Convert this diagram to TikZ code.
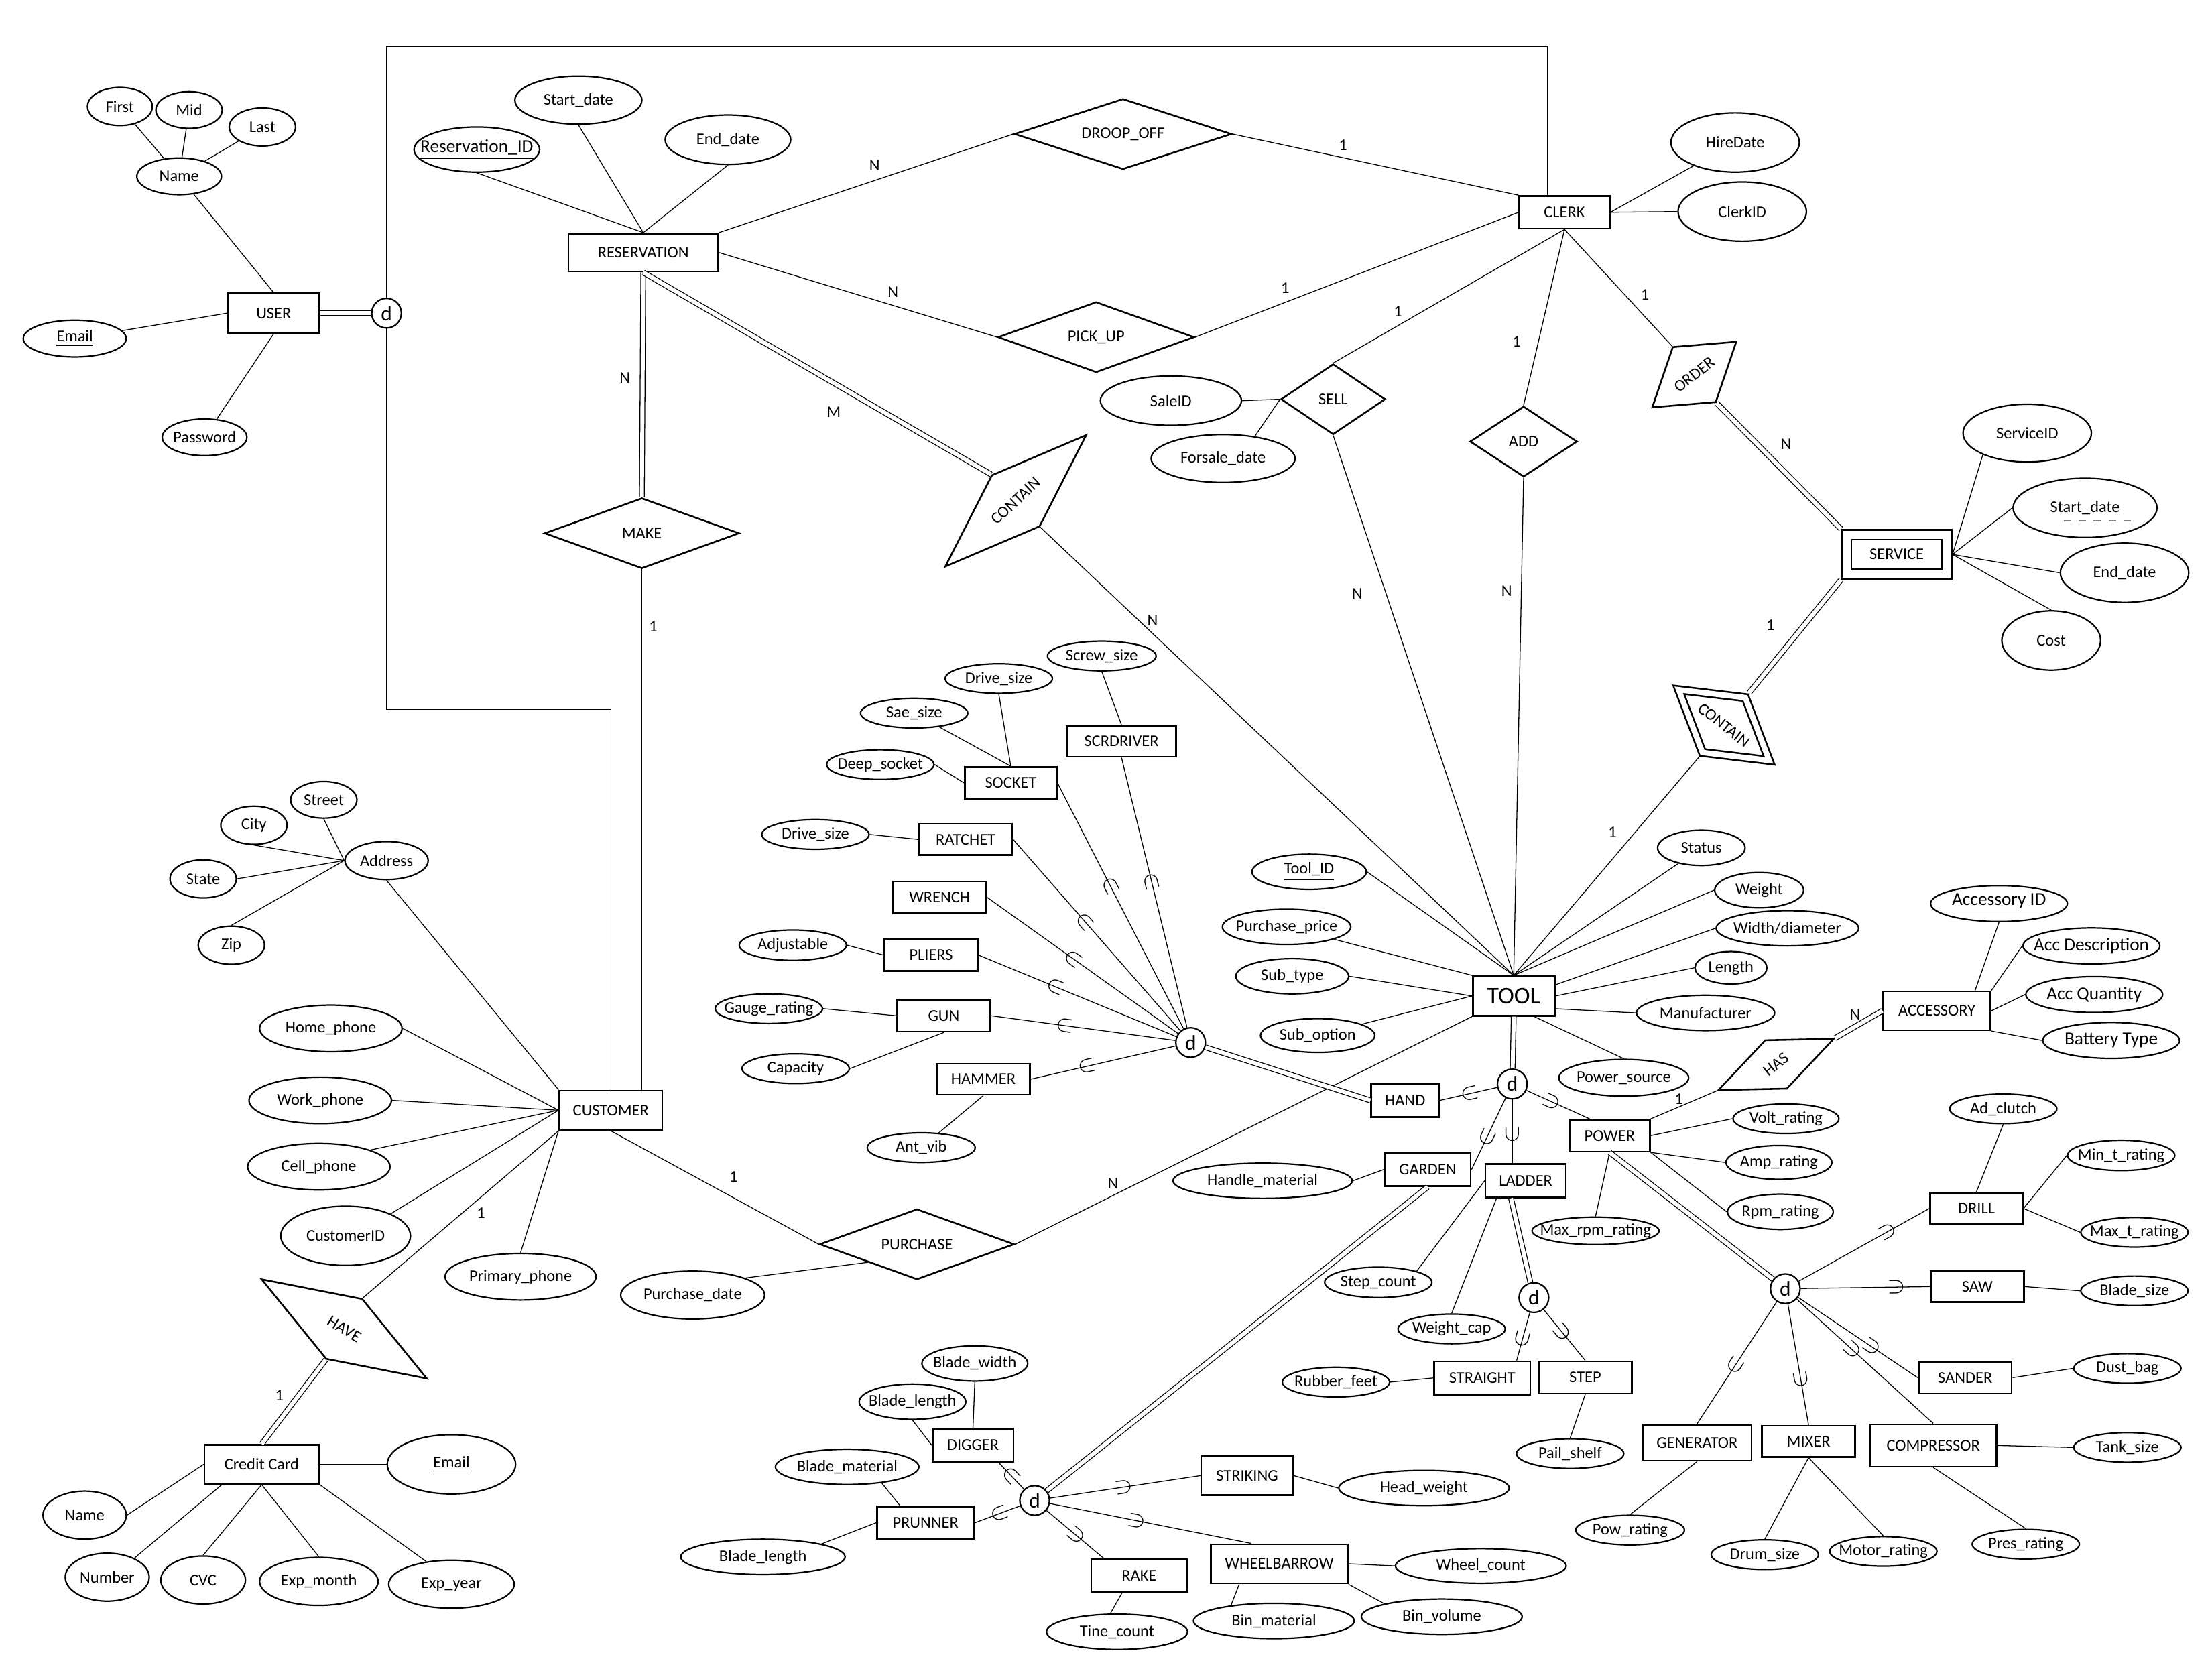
\documentclass[tikz,border=0pt]{standalone}
\usepackage{fontspec}
\setmainfont{Carlito}
\usepackage{graphicx}
\usetikzlibrary{shapes.geometric}

\begin{document}
\begin{tikzpicture}[
  x=0.02cm, y=-0.02cm,
  font=\fontsize{6.6}{7.5}\selectfont,
  pointtext/.style={
    execute at begin node={\hbox to 0pt\bgroup\hss},
    execute at end node={\hss\egroup}
  },
  entity/.style 2 args={
    draw, line width=0.7pt, rectangle, inner sep=0pt,
    minimum width=#1*0.02cm, minimum height=#2*0.02cm
  },
  weakentity/.style 2 args={
    entity={#1}{#2}, double, double distance=3.2pt, outer sep=2.3pt
  },
  attr/.style 2 args={
    draw, line width=0.6pt, ellipse, inner sep=0pt, pointtext,
    minimum width=#1*0.02cm, minimum height=#2*0.02cm
  },
  rel/.style 2 args={
    draw, line width=0.7pt, diamond, inner sep=0pt, pointtext,
    minimum width=#1*0.02cm, minimum height=#2*0.02cm
  },
  weakrel/.style 2 args={
    rel={#1}{#2}, double, double distance=2.2pt, outer sep=1.8pt
  },
  isa/.style={
    draw, line width=0.6pt, circle, inner sep=0pt,
    minimum size=21*0.02cm, font=\fontsize{8.5}{9}\selectfont
  },
  link/.style={line width=0.35pt},
  total/.style={line width=0.35pt, double, double distance=1.6pt},
  card/.style={inner sep=0pt},
  subset/.style={sloped, allow upside down, inner sep=0pt, font=\fontsize{9.5}{9.5}\selectfont},
  bigattr/.style={font=\fontsize{7.4}{8}\selectfont}
]
\useasboundingbox[fill=white] (0,0) rectangle (1568,1176);

% User and its specialisation frame
\node[entity={65}{28}] (user) at (194,222) {USER};
\node[isa] (userisa) at (274,222) {d};
\node[attr={60}{26}] (uname) at (127,125) {Name};
\node[attr={46}{27}] (ufirst) at (85,75.5) {First};
\node[attr={47}{26}] (umid) at (134,78) {Mid};
\node[attr={47}{27}] (ulast) at (186,90) {Last};
\node[attr={73}{26}] (uemail) at (53,240) {\underline{Email}};
\node[attr={60}{26}] (upass) at (145,310) {Password};

\draw[link] (uname) -- (user.north);
\draw[link] (uname) -- (ufirst);
\draw[link] (uname) -- (umid);
\draw[link] (uname) -- (ulast);
\draw[link] (uemail) -- (user.west);
\draw[link] (user.south) -- (upass);
\draw[total] (user) -- (userisa);

\coordinate (frameTL) at (274,33);
\coordinate (frameTR) at (1097,33);
\coordinate (frameBL) at (274,503);
\coordinate (frameBR) at (433,503);

% Reservation side
\node[entity={106}{27}] (resv) at (456,179) {RESERVATION};
\node[attr={89}{32}, bigattr] (resid) at (338,106) {\underline{Reservation\_ID}};
\node[attr={90}{34}] (rstart) at (410,71) {Start\_date};
\node[attr={89}{35}] (rend) at (516,99) {End\_date};
\node[rel={154}{50}] (dropoff) at (796,95) {DROOP\_OFF};
\node[rel={139}{50}] (pickup) at (777,239) {PICK\_UP};
\node[rel={138}{50}] (make) at (455,378) {MAKE};
\node[rel={137}{50}, rotate=43] (contres) at (720,355) {CONTAIN};

\draw[link] (resid.south) -- (resv.north);
\draw[link] (rstart.south) -- (resv.north);
\draw[link] (rend.south) -- (resv.north);

% Clerk side
\node[entity={64}{23}] (clerk) at (1109,150.5) {CLERK};
\node[attr={91}{42}] (hiredate) at (1230,101) {HireDate};
\node[attr={91}{42}] (clerkid) at (1235,150) {ClerkID};
\node[rel={74}{50}] (sell) at (945,283) {SELL};
\node[attr={100}{35}] (saleid) at (830,284) {SaleID};
\node[attr={102}{34}] (forsale) at (867,325) {Forsale\_date};
\node[rel={76}{50}] (add) at (1080,313) {ADD};
\node[rel={76}{50}, rotate=38] (order) at (1201,265.5) {ORDER};

\draw[link] (clerk.east) -- (hiredate);
\draw[link] (clerk.east) -- (clerkid.west);
\draw[link] (saleid.east) -- (sell.west);
\draw[link] (forsale.35) -- (sell.west);

\draw[link] (userisa) -- (frameTL) -- (frameTR) -- (frameTR |- clerk.north);

\draw[link] (resv.north east) -- (dropoff.west);
\draw[link] (dropoff.east) -- (clerk.north west);
\draw[link] (resv.east) -- (pickup.west);
\draw[link] (pickup.east) -- (clerk.west);
\draw[link] (clerk.south) -- (sell.north);
\draw[link] (clerk.south) -- (add.north);
\draw[link] (clerk.south) -- (order.north);

% Service
\node[weakentity={71}{28}] (service) at (1344.5,393) {SERVICE};
\node[attr={91}{41}] (svcid) at (1437,307) {ServiceID};
\node[attr={102}{42}] (svcstart) at (1478,360) {Start\_date};
\node[attr={91}{42}] (svcend) at (1506,406) {End\_date};
\node[attr={70}{42}] (svccost) at (1454,454) {Cost};
\node[weakrel={84}{52}, rotate=-38] (contsvc) at (1222,514) {CONTAIN};

\draw[link] (service.east) -- (svcid.206);
\draw[link] (service.east) -- (svcstart.west);
\draw[link] (service.east) -- (svcend.west);
\draw[link] (service.east) -- (svccost.north);
\draw[dashed, gray, line width=0.5pt] ([shift={(-15,9)}]svcstart.center) -- ++(51,0);
\draw[total] (order.south) -- (service.north west);
\draw[total] (service.south west) -- (contsvc.north);

% Customer
\node[entity={73}{28}] (customer) at (433,787) {CUSTOMER};
\node[attr={59}{27}] (addr) at (274,610) {Address};
\node[attr={47}{26}] (street) at (229.5,567) {Street};
\node[attr={47}{27}] (city) at (180,585) {City};
\node[attr={47}{27}] (state) at (144,623) {State};
\node[attr={47}{27}] (zip) at (164,670) {Zip};
\node[attr={101}{33}] (homeph) at (234.5,729) {Home\_phone};
\node[attr={101}{33}] (workph) at (227,780) {Work\_phone};
\node[attr={101}{33}] (cellph) at (226,827) {Cell\_phone};
\node[attr={92}{42}] (custid) at (245,876) {CustomerID};
\node[attr={107}{33}] (primph) at (369,905) {Primary\_phone};
\node[rel={137}{50}, rotate=-31] (have) at (244,942) {HAVE};

\draw[link] (addr.west) -- (street.south);
\draw[link] (addr.west) -- (city.south);
\draw[link] (addr.west) -- (state.east);
\draw[link] (addr.west) -- (zip.north);
\draw[link] (addr.south) -- (customer.north west);
\draw[link] (homeph.east) -- (customer.west);
\draw[link] (workph.east) -- (customer.west);
\draw[link] (cellph.18) -- (customer.west);
\draw[link] (custid.26) -- (customer.west);
\draw[link] (primph.north) -- (customer.south west);
\draw[link] (have.north) -- (customer.south west);

\draw[link] (userisa) -- (frameBL) -- (frameBR) -- (frameBR |- customer.north);
\draw[total] (resv.south) -- (make.north);
\draw[link] (make.south) -- (make.south |- customer.north);
\draw[total] (resv.south) -- (contres.north);

% Credit card
\node[entity={81}{27.5}] (ccard) at (185.5,1038) {Credit Card};
\node[attr={91}{42}] (ccemail) at (320,1038) {\underline{Email}};
\node[attr={59}{34}] (ccname) at (60,1074) {Name};
\node[attr={59.5}{34}] (ccnum) at (76,1118) {Number};
\node[attr={60}{34}] (cccvc) at (144,1120) {CVC};
\node[attr={84}{34}] (ccmonth) at (226,1121) {Exp\_month};
\node[attr={89}{34}] (ccyear) at (320,1123) {Exp\_year};

\draw[total] (have.south) -- (ccard.north);
\draw[link] (ccard.east) -- (ccemail.west);
\draw[link] (ccard.west) -- (ccname.east);
\draw[link] (ccard.207) -- (ccnum.35);
\draw[link] (ccard.south) -- (cccvc.north);
\draw[link] (ccard.south) -- (ccmonth.north);
\draw[link] (ccard.south east) -- (ccyear.138);

% Tool
\node[entity={58}{28}, font=\fontsize{9.7}{11}\selectfont] (tool) at (1073,706) {TOOL};
\node[attr={81}{25}] (toolid) at (928,618) {\underline{Tool\_ID}};
\node[attr={91}{25}] (purprice) at (912,657) {Purchase\_price};
\node[attr={80}{25}] (subtype) at (916,692) {Sub\_type};
\node[attr={81}{24}] (subopt) at (934,734) {Sub\_option};
\node[attr={62}{25}] (status) at (1206,601) {Status};
\node[attr={63}{25}] (weight) at (1247,631) {Weight};
\node[attr={101}{25}] (widthdia) at (1267,658) {Width/diameter};
\node[attr={51}{23}] (length) at (1227,686) {Length};
\node[attr={98}{25}] (manuf) at (1209,718) {Manufacturer};
\node[attr={92}{26}] (powsrc) at (1151,764) {Power\_source};

\draw[link] (sell.south) -- (tool.north);
\draw[link] (add.south) -- (tool.north);
\draw[link] (contres.south) -- (tool.north);
\draw[link] (contsvc.south) -- (tool.north);
\draw[link] (toolid.east) -- (tool.north);
\draw[link] (purprice) -- (tool.north west);
\draw[link] (subtype.east) -- (tool.west);
\draw[link] (subopt) -- (tool.west);
\draw[link] (status) -- (tool.north);
\draw[link] (weight.west) -- (tool.north);
\draw[link] (widthdia.west) -- (tool.15);
\draw[link] (length.west) -- (tool.east);
\draw[link] (manuf.west) -- (tool.-17);
\draw[link] (tool.-45) -- (powsrc.north);

% Purchase
\node[rel={138}{50}] (purchase) at (650,882) {PURCHASE};
\node[attr={102}{34}] (purdate) at (491,918) {Purchase\_date};
\draw[link] (customer.south) -- (purchase.west);
\draw[link] (purchase.east) -- (tool.south west);
\draw[link] (purdate.18) -- (purchase.south west);

% Tool specialisation
\node[isa] (tooldisa) at (1072,768.4) {d};
\node[entity={48}{23.5}] (hand) at (996,780) {HAND};
\node[entity={61}{23.5}] (garden) at (1012,829) {GARDEN};
\node[entity={57}{23.6}] (ladder) at (1081.5,837) {LADDER};
\node[entity={57}{22.5}] (power) at (1141,805) {POWER};
\node[attr={127}{25}] (handlemat) at (895,837) {Handle\_material};

\draw[total] (tool.south) -- (tooldisa);
\draw[link] (hand.east) -- node[subset, pos=0.52] (sub1) {$\subset$} (tooldisa);
\draw[link] (garden.east) -- node[subset, pos=0.45] (sub2) {$\subset$} (tooldisa);
\draw[link] (ladder.north -| tooldisa) -- node[subset, pos=0.46] (sub3) {$\subset$} (tooldisa);
\draw[link] (power.140) -- node[subset, pos=0.6] (sub4) {$\subset$} (tooldisa);
\draw[link] (handlemat.east) -- (garden.west);

% Hand tools
\node[isa] (handisa) at (844,739) {d};
\node[entity={65}{22.5}] (socket) at (716.5,555) {SOCKET};
\node[entity={77.5}{22}] (scrdriver) at (795,525.5) {SCRDRIVER};
\node[entity={66}{22}] (ratchet) at (684.5,595) {RATCHET};
\node[entity={66}{22.5}] (wrench) at (666,636) {WRENCH};
\node[entity={66}{22.5}] (pliers) at (660,677) {PLIERS};
\node[entity={66}{22.5}] (gun) at (669,720) {GUN};
\node[entity={66}{22}] (hammer) at (697,765) {HAMMER};
\node[attr={76}{21}] (sockdrive) at (708,481) {Drive\_size};
\node[attr={76}{21}] (saesize) at (648,505.5) {Sae\_size};
\node[attr={76}{21}] (deepsock) at (624,542) {Deep\_socket};
\node[attr={77}{21}] (screwsize) at (781,465) {Screw\_size};
\node[attr={76}{21}] (ratdrive) at (578,591.5) {Drive\_size};
\node[attr={76}{21.5}] (adjust) at (562,670) {Adjustable};
\node[attr={76}{21}] (gauge) at (545,715) {Gauge\_rating};
\node[attr={76}{21}] (capacity) at (564,757.5) {Capacity};
\node[attr={76.5}{21}] (antvib) at (653,813.5) {Ant\_vib};

\draw[total] (handisa) -- (hand.west);
\draw[link] (sockdrive.south) -- (socket.north);
\draw[link] (saesize) -- (socket.north);
\draw[link] (deepsock.east) -- (socket.west);
\draw[link] (screwsize.south) -- (scrdriver.north);
\draw[link] (ratdrive.east) -- (ratchet.west);
\draw[link] (adjust.east) -- (pliers.west);
\draw[link] (gauge.east) -- (gun.west);
\draw[link] (capacity.east) -- (gun.south);
\draw[link] (hammer.south) -- (antvib);
\draw[link] (scrdriver.south) -- node[subset, pos=0.46] (sub5) {$\subset$} (handisa);
\draw[link] (socket.east) -- node[subset, pos=0.42] (sub6) {$\subset$} (handisa);
\draw[link] (ratchet.east) -- node[subset, pos=0.43] (sub7) {$\subset$} (handisa);
\draw[link] (wrench.east) -- node[subset, pos=0.45] (sub8) {$\subset$} (handisa);
\draw[link] (pliers.east) -- node[subset, pos=0.39] (sub9) {$\subset$} (handisa);
\draw[link] (gun.east) -- node[subset, pos=0.40] (sub10) {$\subset$} (handisa);
\draw[link] (hammer.east) -- node[subset, pos=0.39] (sub11) {$\subset$} (handisa);

% Power tools and accessories
\node[attr={75}{21}] (volt) at (1266,793) {Volt\_rating};
\node[attr={75}{24}] (amp) at (1261,824) {Amp\_rating};
\node[attr={75}{25}] (rpm) at (1262,859) {Rpm\_rating};
\node[attr={90}{19.5}] (maxrpm) at (1131,872.5) {Max\_rpm\_rating};
\node[rel={90}{38}, rotate=24] (has) at (1259,754.5) {\rotatebox{14}{HAS}};
\node[entity={76}{27.5}] (accessory) at (1373,716.5) {ACCESSORY};
\node[attr={97}{25.5}, bigattr] (accid) at (1417,640.5) {\underline{Accessory ID}};
\node[attr={97}{25.5}, bigattr] (accdesc) at (1482.5,670.5) {Acc Description};
\node[attr={97}{25.5}, bigattr] (accqty) at (1484.5,705) {Acc Quantity};
\node[attr={97}{25.5}, bigattr] (battype) at (1496.5,737.5) {Battery Type};

\draw[link] (power.east) -- (volt.west);
\draw[link] (power.south east) -- (amp.west);
\draw[link] (power.south east) -- (rpm.west);
\draw[link] (maxrpm.north) -- (power.south);
\draw[link] (power.north east) -- (has.west);
\draw[total] (has.east) -- (accessory.west);
\draw[link] (accid.south) -- (accessory.28);
\draw[link] (accdesc.west) -- (accessory.north east);
\draw[link] (accqty.west) -- (accessory.east);
\draw[link] (battype.west) -- (accessory.south east);

\node[isa] (powerisa) at (1265.5,913.5) {d};
\node[entity={65.5}{22.3}] (drill) at (1401,856.6) {DRILL};
\node[entity={66}{22}] (saw) at (1401.6,912) {SAW};
\node[entity={66}{22.5}] (sander) at (1393,976.6) {SANDER};
\node[entity={77}{25.5}] (generator) at (1203,1022.6) {GENERATOR};
\node[entity={66}{22}] (mixer) at (1282,1021.7) {MIXER};
\node[entity={89.5}{30}] (compressor) at (1370.4,1024.6) {COMPRESSOR};
\node[attr={76}{21}] (adclutch) at (1420,786) {Ad\_clutch};
\node[attr={76}{21.5}] (mintr) at (1503.6,819) {Min\_t\_rating};
\node[attr={76}{21}] (maxtr) at (1513,873.5) {Max\_t\_rating};
\node[attr={76}{21}] (bladesize) at (1513,915) {Blade\_size};
\node[attr={76}{21}] (dustbag) at (1508,970) {Dust\_bag};
\node[attr={76}{21}] (tanksize) at (1508,1026) {Tank\_size};
\node[attr={76}{21}] (presrating) at (1436,1094.6) {Pres\_rating};
\node[attr={76}{21}] (drumsize) at (1251,1102) {Drum\_size};
\node[attr={76}{21}] (motorrating) at (1335,1099.7) {Motor\_rating};
\node[attr={77}{21}] (powrating) at (1155.5,1084.6) {Pow\_rating};

\draw[total] (power.south) -- (powerisa);
\draw[link] (drill.west) -- node[subset, pos=0.32] (sub12) {$\subset$} (powerisa);
\draw[link] (saw.west) -- node[subset, pos=0.26] (sub13) {$\subset$} (powerisa);
\draw[link] (sander.west) -- node[subset, pos=0.385] (sub14) {$\subset$} (powerisa);
\draw[link] (compressor.north) -- node[subset, pos=0.59] (sub15) {$\subset$} (powerisa);
\draw[link] (mixer.north) -- node[subset, pos=0.38] (sub16) {$\subset$} (powerisa);
\draw[link] (generator.north) -- node[subset, pos=0.48] (sub17) {$\subset$} (powerisa);
\draw[link] (drill.north) -- (adclutch.south);
\draw[link] (drill.east) -- (mintr.west);
\draw[link] (drill.east) -- (maxtr.west);
\draw[link] (saw.east) -- (bladesize.west);
\draw[link] (sander.east) -- (dustbag.west);
\draw[link] (compressor.east) -- (tanksize.west);
\draw[link] (compressor.south) -- (presrating.north);
\draw[link] (mixer.south) -- (drumsize.north);
\draw[link] (mixer.south) -- (motorrating.north);
\draw[link] (generator.south) -- (powrating.north);

% Ladders
\node[isa] (ladderisa) at (1087.3,919.8) {d};
\node[attr={76}{21.5}] (stepcount) at (977,909) {Step\_count};
\node[attr={76}{21}] (weightcap) at (1029,942) {Weight\_cap};
\node[entity={68}{23.6}] (straight) at (1050.7,976.8) {STRAIGHT};
\node[entity={66}{22.8}] (step) at (1123.7,976.4) {STEP};
\node[attr={76}{21}] (rubberfeet) at (947,979.7) {Rubber\_feet};
\node[attr={76}{21}] (pailshelf) at (1113,1030.4) {Pail\_shelf};

\draw[total] (ladder.-130) -- (ladderisa);
\draw[link] (ladder.west) -- (stepcount.north east);
\draw[link] (ladder.-149) -- (weightcap.north);
\draw[link] (straight.27) -- node[subset, pos=0.45] (sub18) {$\subset$} (ladderisa);
\draw[link] (step.north) -- node[subset, pos=0.55] (sub19) {$\subset$} (ladderisa);
\draw[link] (rubberfeet.east) -- (straight.west);
\draw[link] (step.south) -- (pailshelf.north);

% Garden tools
\node[isa] (gardenisa) at (733.4,1063.6) {d};
\node[entity={57.3}{23.2}] (digger) at (689.7,1024.4) {DIGGER};
\node[entity={68.8}{23.2}] (prunner) at (656,1079.4) {PRUNNER};
\node[entity={68}{23}] (rake) at (807.5,1117) {RAKE};
\node[entity={65}{27.8}] (striking) at (884,1046) {STRIKING};
\node[entity={97}{27.7}] (wheelbarrow) at (906.8,1108.5) {WHEELBARROW};
\node[attr={75}{25}] (bladewidth) at (691,966.5) {Blade\_width};
\node[attr={75.6}{25}] (digbladelen) at (646.8,993.6) {Blade\_length};
\node[attr={101.7}{25}] (blademat) at (600.5,1039.8) {Blade\_material};
\node[attr={116.5}{25}] (prunbladelen) at (540.8,1103.6) {Blade\_length};
\node[attr={100}{25}] (tinecount) at (791.8,1156.7) {Tine\_count};
\node[attr={120.8}{25}] (headweight) at (1009.4,1054.8) {Head\_weight};
\node[attr={121}{24.5}] (wheelcount) at (1049.7,1110) {Wheel\_count};
\node[attr={114}{25}] (binmat) at (903,1149) {Bin\_material};
\node[attr={114}{25}] (binvol) at (1022,1146) {Bin\_volume};

\draw[total] (garden.south) -- (gardenisa);
\draw[link] (bladewidth.south) -- (digger.north);
\draw[link] (digbladelen.south) -- (digger.west);
\draw[link] (blademat.-25) -- (prunner.146);
\draw[link] (prunner.west) -- (prunbladelen.north east);
\draw[link] (digger.-34) -- node[subset, pos=0.5] (sub20) {$\subset$} (gardenisa);
\draw[link] (prunner.east) -- node[subset, pos=0.55] (sub21) {$\subset$} (gardenisa);
\draw[link] (rake.154) -- node[subset, pos=0.48] (sub22) {$\subset$} (gardenisa);
\draw[link] (striking.west) -- node[subset, pos=0.51] (sub23) {$\subset$} (gardenisa);
\draw[link] (wheelbarrow.144) -- node[subset, pos=0.57] (sub24) {$\subset$} (gardenisa);
\draw[link] (striking.east) -- (headweight.west);
\draw[link] (wheelbarrow.east) -- (wheelcount.west);
\draw[link] (wheelbarrow.-153) -- (binmat.160);
\draw[link] (wheelbarrow.south east) -- (binvol.north west);
\draw[link] (rake.-135) -- (tinecount.110);

% Cardinalities
\node[card] (c1) at (620,117) {N};
\node[card] (c2) at (952,103) {1};
\node[card] (c3) at (633,207) {N};
\node[card] (c4) at (911,204) {1};
\node[card] (c5) at (991,221) {1};
\node[card] (c6) at (1075,242) {1};
\node[card] (c7) at (1166,209) {1};
\node[card] (c8) at (1266,315) {N};
\node[card] (c9) at (1255,443) {1};
\node[card] (c10) at (1143,590) {1};
\node[card] (c11) at (962,421) {N};
\node[card] (c12) at (1068,419) {N};
\node[card] (c13) at (817,440) {N};
\node[card] (c14) at (591,292) {M};
\node[card] (c15) at (443,268) {N};
\node[card] (c16) at (463,444) {1};
\node[card] (c17) at (520,834) {1};
\node[card] (c18) at (789,839) {N};
\node[card] (c19) at (341,860) {1};
\node[card] (c20) at (198,989) {1};
\node[card] (c21) at (1190,779) {1};
\node[card] (c22) at (1315,719) {N};

\end{tikzpicture}
\end{document}
